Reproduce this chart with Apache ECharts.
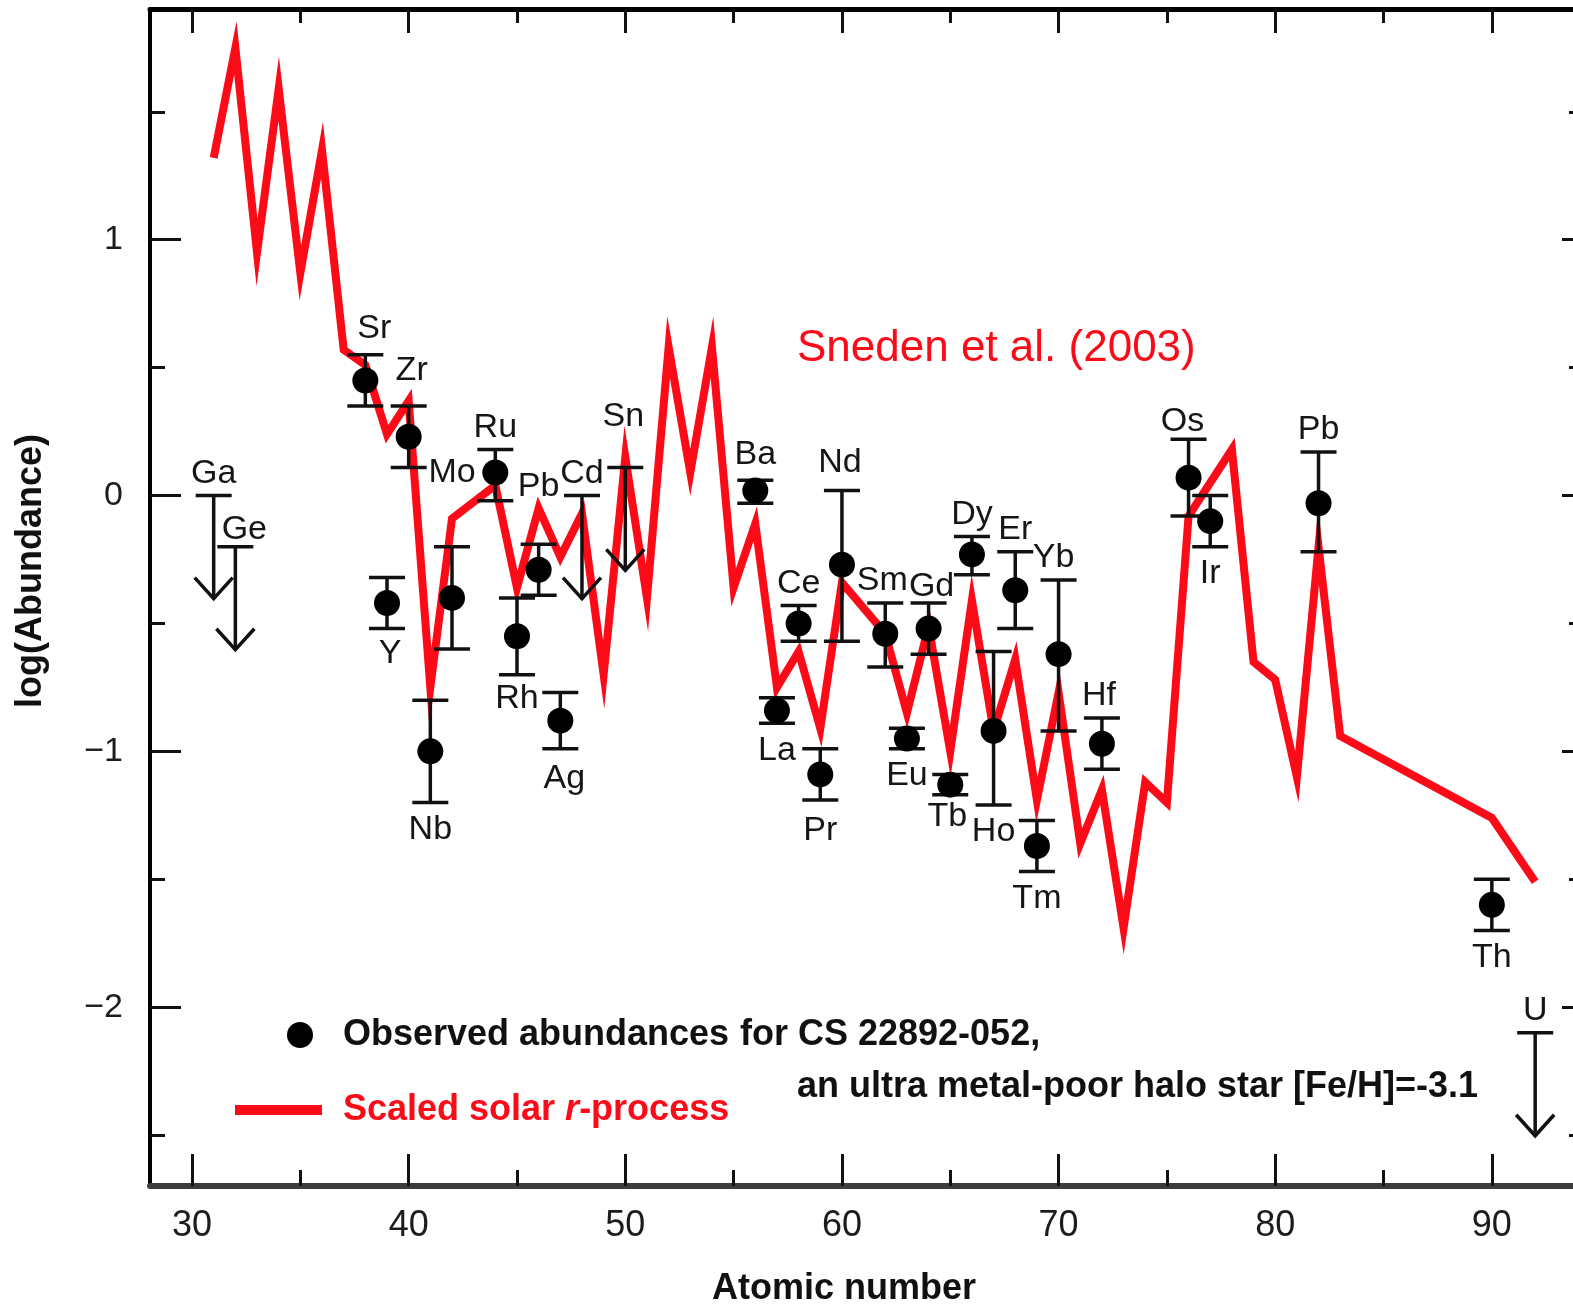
<!DOCTYPE html>
<html>
<head>
<meta charset="utf-8">
<title>CS 22892-052 abundances</title>
<script src="https://cdn.jsdelivr.net/npm/echarts@6.0.0/dist/echarts.min.js"></script>
<style>
  html, body { margin: 0; padding: 0; background: #fff; }
  #chart { width: 1573px; height: 1304px; }
</style>
</head>
<body>
<div id="chart"></div>
<script>
// observed abundances (dots with error bars)
var obsZ     = [38, 39, 40, 41, 42, 44, 45, 46, 47, 56, 57, 58, 59, 60, 62, 63, 64, 65, 66, 67, 68, 69, 70, 72, 76, 77, 82, 90];
var obsNames = ['Sr', 'Y', 'Zr', 'Nb', 'Mo', 'Ru', 'Rh', 'Pb', 'Ag', 'Ba', 'La', 'Ce', 'Pr', 'Nd', 'Sm', 'Eu', 'Gd', 'Tb', 'Dy', 'Ho', 'Er', 'Tm', 'Yb', 'Hf', 'Os', 'Ir', 'Pb', 'Th'];
var obsVal   = [0.45, -0.42, 0.23, -1.00, -0.40, 0.09, -0.55, -0.29, -0.88, 0.02, -0.84, -0.50, -1.09, -0.27, -0.54, -0.95, -0.52, -1.13, -0.23, -0.92, -0.37, -1.37, -0.62, -0.97, 0.07, -0.10, -0.03, -1.60];
var obsLow   = [0.35, -0.52, 0.11, -1.20, -0.60, -0.02, -0.70, -0.39, -0.99, -0.03, -0.89, -0.57, -1.19, -0.57, -0.67, -0.99, -0.62, -1.17, -0.31, -1.21, -0.52, -1.47, -0.92, -1.07, -0.08, -0.20, -0.22, -1.70];
var obsHigh  = [0.55, -0.32, 0.35, -0.80, -0.20, 0.18, -0.40, -0.19, -0.77, 0.06, -0.79, -0.43, -0.99, 0.02, -0.42, -0.91, -0.42, -1.09, -0.16, -0.61, -0.22, -1.27, -0.33, -0.87, 0.22, 0.00, 0.17, -1.50];

// upper limits (arrows)
var limZ     = [31, 32, 48, 50, 92];
var limNames = ['Ga', 'Ge', 'Cd', 'Sn', 'U'];
var limVal   = [0.00, -0.20, 0.00, 0.11, -2.10];

// scaled solar r-process curve
var solarZ   = [31, 32, 33, 34, 35, 36, 37, 38, 39, 40, 41, 42, 44, 45, 46, 47, 48, 49, 50, 51, 52, 53, 54, 55, 56, 57, 58, 59, 60, 62, 63, 64, 65, 66, 67, 68, 69, 70, 71, 72, 73, 74, 75, 76, 77, 78, 79, 80, 81, 82, 83, 90, 92];
var solarVal = [1.32, 1.75, 0.95, 1.59, 0.87, 1.35, 0.57, 0.51, 0.24, 0.37, -0.75, -0.09, 0.04, -0.36, -0.05, -0.24, -0.07, -0.70, 0.15, -0.40, 0.58, 0.09, 0.58, -0.36, -0.11, -0.75, -0.61, -0.91, -0.34, -0.54, -0.85, -0.51, -1.00, -0.41, -0.92, -0.64, -1.19, -0.77, -1.36, -1.15, -1.69, -1.12, -1.20, -0.08, 0.05, 0.18, -0.65, -0.72, -1.10, -0.20, -0.94, -1.26, -1.51];

// axis ticks
var xMajor = [30, 40, 50, 60, 70, 80, 90];
var xMinor = [35, 45, 55, 65, 75, 85];
var yMajor = [-2, -1, 0, 1];
var yMinor = [-2.5, -1.5, -0.5, 0.5, 1.5];

// label layout: which side of the bar, and small nudges in px keyed by Z
var labelBelow = [39, 41, 45, 47, 57, 59, 63, 65, 67, 69, 77, 90];
var labelNudge = {
  32: [9, 5], 38: [9, -4], 39: [3, -2], 40: [3, -13], 42: [0, -52], 45: [0, -3],
  46: [0, -36], 47: [4, 3], 50: [-2, -29], 56: [0, -4], 59: [0, 4], 60: [-2, -6],
  62: [-3, 0], 64: [3, 6], 65: [-3, -5], 70: [-5, 0], 72: [-3, 0], 76: [-6, 4]
};

var RED = '#fb0a18';
var INK = '#111';
var FONT = '"Liberation Sans", Arial, Helvetica, sans-serif';
var CAP = 18;

var xMin = 28.06, xMax = 94.3, yMin = -2.699, yMax = 1.902;

var errData = obsZ.map(function (z, i) { return [z, obsLow[i], obsHigh[i]]; });
var dotData = obsZ.map(function (z, i) { return [z, obsVal[i]]; });
var limData = limZ.map(function (z, i) { return [z, limVal[i]]; });
var lineData = solarZ.map(function (z, i) { return [z, solarVal[i]]; });

// one entry per label: [Z, anchor value, name index, kind]
var labelData = [];
obsZ.forEach(function (z, i) {
  var below = labelBelow.indexOf(z) >= 0;
  labelData.push([z, below ? obsLow[i] : obsHigh[i], i, below ? 1 : 0]);
});
limZ.forEach(function (z, i) {
  labelData.push([z, limVal[i], 100 + i, 0]);
});

function renderErr (params, api) {
  var z = api.value(0);
  var lo = api.coord([z, api.value(1)]);
  var hi = api.coord([z, api.value(2)]);
  function st () { return { stroke: INK, lineWidth: 3.5 }; }
  return {
    type: 'group',
    children: [
      { type: 'line', shape: { x1: lo[0], y1: lo[1], x2: hi[0], y2: hi[1] }, style: st() },
      { type: 'line', shape: { x1: lo[0] - CAP, y1: lo[1], x2: lo[0] + CAP, y2: lo[1] }, style: st() },
      { type: 'line', shape: { x1: hi[0] - CAP, y1: hi[1], x2: hi[0] + CAP, y2: hi[1] }, style: st() }
    ]
  };
}

function renderLimit (params, api) {
  var p = api.coord([api.value(0), api.value(1)]);
  var tip = p[1] + 103;
  function st () { return { stroke: INK, lineWidth: 3.5, fill: null }; }
  return {
    type: 'group',
    children: [
      { type: 'line', shape: { x1: p[0] - CAP, y1: p[1], x2: p[0] + CAP, y2: p[1] }, style: st() },
      { type: 'line', shape: { x1: p[0], y1: p[1], x2: p[0], y2: tip }, style: st() },
      { type: 'polyline', shape: { points: [[p[0] - 19, tip - 21], [p[0], tip], [p[0] + 19, tip - 21]] }, style: st() }
    ]
  };
}

function renderLabel (params, api) {
  var z = api.value(0);
  var idx = api.value(2);
  var below = api.value(3) === 1;
  var name = idx >= 100 ? limNames[idx - 100] : obsNames[idx];
  var p = api.coord([z, api.value(1)]);
  var nudge = labelNudge[z] || [0, 0];
  var y = below ? p[1] + 27 : p[1] - 22;
  return {
    type: 'text',
    x: p[0] + nudge[0],
    y: y + nudge[1],
    style: {
      text: name,
      fill: '#161616',
      font: '34px ' + FONT,
      align: 'center',
      verticalAlign: 'middle'
    }
  };
}

function tickAxis (pos, ticks, len, extra) {
  var a = {
    type: 'value',
    position: pos,
    axisLine: { show: false, onZero: false },
    axisTick: { show: true, inside: true, length: len, customValues: ticks, lineStyle: { color: INK, width: 3 } },
    axisLabel: { show: false },
    splitLine: { show: false }
  };
  return Object.assign(a, extra);
}

var chart = echarts.init(document.getElementById('chart'));

var option = {
  animation: false,
  backgroundColor: '#fff',
  grid: { left: 150, right: -12, top: 9, bottom: 118, containLabel: false, outerBoundsMode: 'none' },
  xAxis: [
    tickAxis('bottom', xMajor, 32, {
      min: xMin, max: xMax,
      axisLine: { show: true, onZero: false, lineStyle: { color: '#3c3c3c', width: 6 } },
      axisLabel: { show: true, customValues: xMajor, margin: 22, fontSize: 36, color: '#1c1c1c', fontFamily: FONT }
    }),
    tickAxis('bottom', xMinor, 16, { min: xMin, max: xMax }),
    tickAxis('top', xMajor, 24, {
      min: xMin, max: xMax,
      axisLine: { show: true, onZero: false, lineStyle: { color: '#000', width: 5 } }
    }),
    tickAxis('top', xMinor, 14, { min: xMin, max: xMax })
  ],
  yAxis: [
    tickAxis('left', yMajor, 31, {
      min: yMin, max: yMax,
      axisLine: { show: true, onZero: false, lineStyle: { color: '#000', width: 4 } },
      axisLabel: {
        show: true, customValues: yMajor, margin: 27, fontSize: 34, color: '#1c1c1c', fontFamily: FONT,
        formatter: function (v) { return v < 0 ? '\u2212' + Math.abs(v) : String(v); }
      }
    }),
    tickAxis('left', yMinor, 15, { min: yMin, max: yMax }),
    tickAxis('right', yMajor, 23, {
      min: yMin, max: yMax,
      axisLine: { show: true, onZero: false, lineStyle: { color: '#000', width: 4 } }
    }),
    tickAxis('right', yMinor, 16, { min: yMin, max: yMax })
  ],
  legend: [
    {
      data: ['Observed abundances'],
      left: 287, top: 1015, padding: 0,
      itemWidth: 26, itemHeight: 26,
      selectedMode: false,
      textStyle: { fontSize: 36, fontWeight: 'bold', color: '#111', fontFamily: FONT, lineHeight: 40, padding: [0, 0, 0, 25] }
    },
    {
      data: [{ name: 'Scaled solar r-process', icon: 'rect' }],
      left: 235, top: 1092, padding: 0,
      itemWidth: 87, itemHeight: 10,
      selectedMode: false,
      formatter: function () { return '{b|Scaled solar }{i|r}{b|-process}'; },
      textStyle: {
        color: RED, fontFamily: FONT, padding: [0, 0, 0, 16],
        rich: {
          b: { fontSize: 36, fontWeight: 'bold', color: RED, fontFamily: FONT, lineHeight: 40 },
          i: { fontSize: 36, fontWeight: 'bold', fontStyle: 'italic', color: RED, fontFamily: FONT, lineHeight: 40 }
        }
      }
    }
  ],
  graphic: [
    { type: 'text', x: 740, y: 1035, style: { text: 'for CS 22892-052,', font: 'bold 36px ' + FONT, fill: '#111', align: 'left', verticalAlign: 'middle' } },
    { type: 'text', x: 797, y: 1087, style: { text: 'an ultra metal-poor halo star [Fe/H]=-3.1', font: 'bold 36px ' + FONT, fill: '#111', align: 'left', verticalAlign: 'middle' } },
    { type: 'text', x: 797, y: 349, style: { text: 'Sneden et al. (2003)', font: '44px ' + FONT, fill: RED, align: 'left', verticalAlign: 'middle' } },
    { type: 'text', x: 31, y: 571, rotation: Math.PI / 2, style: { text: 'log(Abundance)', font: 'bold 36px ' + FONT, fill: '#111', align: 'center', verticalAlign: 'middle' } },
    { type: 'text', x: 844, y: 1289, style: { text: 'Atomic number', font: 'bold 36px ' + FONT, fill: '#111', align: 'center', verticalAlign: 'middle' } }
  ],
  series: [
    {
      name: 'Scaled solar r-process',
      type: 'line',
      data: lineData,
      showSymbol: false,
      symbol: 'none',
      color: RED,
      lineStyle: { color: RED, width: 8, join: 'miter', miterLimit: 12, cap: 'butt' },
      z: 2
    },
    {
      name: 'errors',
      type: 'custom',
      renderItem: renderErr,
      data: errData,
      z: 3
    },
    {
      name: 'limits',
      type: 'custom',
      renderItem: renderLimit,
      data: limData,
      z: 3
    },
    {
      name: 'Observed abundances',
      type: 'scatter',
      data: dotData,
      symbol: 'circle',
      symbolSize: 26,
      itemStyle: { color: '#000', opacity: 1 },
      z: 4
    },
    {
      name: 'labels',
      type: 'custom',
      renderItem: renderLabel,
      data: labelData,
      z: 5
    }
  ]
};

chart.setOption(option);
</script>
</body>
</html>
